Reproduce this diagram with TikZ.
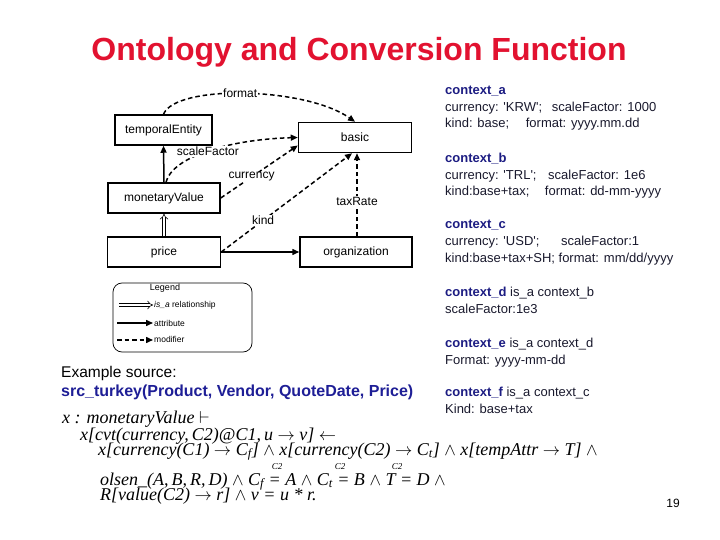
\documentclass[tikz,border=0pt]{standalone}
\usepackage{fontspec}
\setmainfont{Liberation Sans}
\newfontfamily\timesfont{Liberation Serif}
\usetikzlibrary{arrows.meta}
\definecolor{titlered}{RGB}{226,18,48}
\definecolor{ctxnavy}{RGB}{28,28,130}
\definecolor{ctxtext}{RGB}{25,25,45}
\definecolor{srcblue}{RGB}{30,30,150}
\newcommand{\ctxhead}[1]{\textcolor{ctxnavy}{\bfseries #1}}
\newcommand{\sq}{\textquotesingle}

\begin{document}
\begin{tikzpicture}[x=1pt,y=-1pt,
		box/.style={draw,line width=1.5pt,fill=white,minimum width=113pt,minimum height=30pt,inner sep=0pt,font=\fontsize{12}{14}\selectfont},
		attr/.style={-{Triangle[length=7pt,width=6pt]},line width=1.5pt},
		modif/.style={attr,dash pattern=on 4.5pt off 3pt},
		isa/.style={double,double distance=2.4pt,line width=0.6pt,-{Implies}},
		lbl/.style={fill=white,inner sep=1pt,font=\fontsize{12}{14}\selectfont},
		legtxt/.style={anchor=west,inner sep=1pt,font=\fontsize{8.5}{10}\selectfont},
		ctx/.style={anchor=base west,align=left,inner sep=0pt,text=ctxtext,font=\fontsize{13}{16.7}\selectfont},
		formula/.style={anchor=base west,inner sep=0pt,font=\timesfont\itshape\fontsize{18}{18}\selectfont},
		subc/.style={inner sep=0pt,font=\timesfont\itshape\fontsize{9}{10}\selectfont}]
	\useasboundingbox (0,0) rectangle (720,540);
	\node[anchor=base,text=titlered,font=\bfseries\fontsize{32}{36}\selectfont] (title) at (359,61) {Ontology and Conversion Function};
	\node[box,minimum width=97pt] (temporal) at (163.5,130) {temporalEntity};
	\node[box] (basic) at (355,137.5) {basic};
	\node[box,minimum width=112pt] (monetary) at (164,198) {monetaryValue};
	\node[box] (price) at (164,252) {price};
	\node[box,minimum width=112pt] (org) at (356,252) {organization};
	\draw[modif] (temporal.north) .. controls +(12,-30) and +(-50,-35) .. node[lbl,pos=0.48] {format} (basic.north);
	\draw[modif] ([xshift=2pt]monetary.north) .. controls +(6,-25) and +(-70,2) .. node[lbl,pos=0.5] {scaleFactor} (basic.west);
	\draw[modif] (monetary.east) -- node[lbl,pos=0.4] {currency} ([yshift=-8pt]basic.west);
	\draw[modif] (price.east) -- node[lbl,pos=0.32] {kind} ([xshift=-3pt]basic.south);
	\draw[modif] ([xshift=1pt]org.north) -- node[lbl,pos=0.42] {taxRate} ([xshift=2pt]basic.south);
	\draw[attr] (monetary.north) -- (temporal.south);
	\draw[isa] (price.north) -- (monetary.south);
	\draw[attr] (price.east) -- (org.west);
	\node[draw,line width=0.7pt,rounded corners=9pt,minimum width=139pt,minimum height=69pt] (legend) at (182.5,317.5) {};
	\node[inner sep=0pt,font=\fontsize{9}{10}\selectfont] (legendtitle) at (165,288) {Legend};
	\coordinate (isafrom) at (119,305);
	\node[legtxt] (isatxt) at (153,305) {\textit{is\_a} relationship};
	\draw[isa] (isafrom) -- (isatxt.west);
	\coordinate (attrfrom) at (117,323);
	\node[legtxt] (attrtxt) at (153,323) {attribute};
	\draw[attr] (attrfrom) -- (attrtxt.west);
	\coordinate (modiffrom) at (117,340);
	\node[legtxt] (modiftxt) at (153,339) {modifier};
	\draw[modif] (modiffrom) -- (modiftxt.west |- modiffrom);
	\node[anchor=base west,inner sep=0pt,font=\fontsize{15.5}{17}\selectfont] (exlabel) at (61,377) {Example source:};
	\node[anchor=base west,inner sep=0pt,text=srcblue,font=\bfseries\fontsize{16}{18}\selectfont] (exsrc) at (61,396) {src\_turkey(Product, Vendor, QuoteDate, Price)};
	\node[formula] (line1) at (62,423) {x : monetaryValue $\vdash$};
	\node[formula] (line2) at (80,440) {x[cvt(currency,\,C2)@C1,\,u $\rightarrow$ v] $\leftarrow$};
	\node[formula] (line3) at (98,455) {x[currency(C1) $\rightarrow$ C\textsubscript{f}] $\wedge$ x[currency(C2) $\rightarrow$ C\textsubscript{t}] $\wedge$ x[tempAttr $\rightarrow$ T] $\wedge$};
	\node[formula] (line4) at (100,485) {olsen\_(A,\,B,\,R,\,D) $\wedge$ C\textsubscript{f} = A $\wedge$ C\textsubscript{t} = B $\wedge$ T = D $\wedge$};
	\node[formula] (line5) at (100,500) {R[value(C2) $\rightarrow$ r] $\wedge$ v = u * r.};
	\node[subc] (c2a) at (277,467) {C2};
	\node[subc] (c2b) at (340,467) {C2};
	\node[subc] (c2c) at (397,467) {C2};
	\node[ctx] (ctxa) at (445,128) {\ctxhead{context\_a}\\currency: \sq KRW\sq;\hspace{6pt} scaleFactor: 1000\\kind: base;\hspace{13pt} format: yyyy.mm.dd};
	\node[ctx] (ctxb) at (445,196) {\ctxhead{context\_b}\\currency: \sq TRL\sq;\hspace{8pt} scaleFactor: 1e6\\kind:base+tax;\hspace{12pt} format: dd-mm-yyyy};
	\node[ctx] (ctxc) at (445,262) {\ctxhead{context\_c}\\currency: \sq USD\sq;\hspace{18pt} scaleFactor:1\\kind:base+tax+SH; format: mm/dd/yyyy};
	\node[ctx] (ctxd) at (445,313) {\ctxhead{context\_d} is\_a context\_b\\scaleFactor:1e3};
	\node[ctx] (ctxe) at (445,364) {\ctxhead{context\_e} is\_a context\_d\\Format: yyyy-mm-dd};
	\node[ctx] (ctxf) at (445,413) {\ctxhead{context\_f} is\_a context\_c\\Kind: base+tax};
	\node[anchor=base,font=\fontsize{12}{14}\selectfont] (pagenum) at (673,507) {19};
\end{tikzpicture}
\end{document}
